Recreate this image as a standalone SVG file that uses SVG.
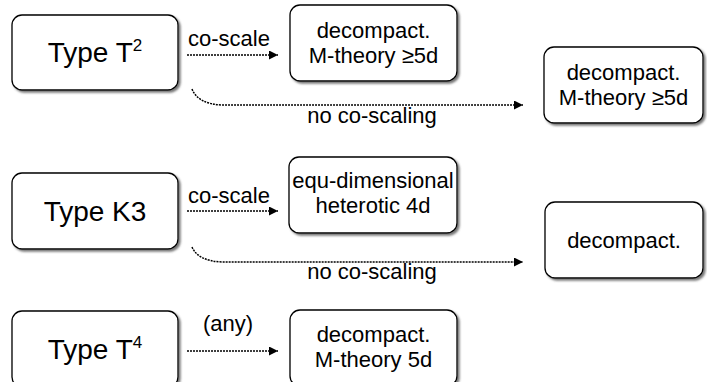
<svg xmlns="http://www.w3.org/2000/svg" width="707" height="382" viewBox="0 0 707 382">
<defs>
<filter id="sh" x="-10%" y="-10%" width="130%" height="130%">
<feDropShadow dx="2" dy="2" stdDeviation="1" flood-color="#555" flood-opacity="0.8"/>
</filter>
<marker id="ah" viewBox="0 0 10 10" refX="10" refY="5" markerWidth="10" markerHeight="9" markerUnits="userSpaceOnUse" orient="auto">
<path d="M0,0 L10,5 L0,10 z" fill="#000"/>
</marker>
</defs>
<style>
.box{fill:#fff;stroke:#000;stroke-width:1.3;filter:url(#sh)}
.t{font-family:"Liberation Sans",Arial,sans-serif;fill:#000;text-anchor:middle}
.big{font-size:28px}
.sm{font-size:22px}
.arr{fill:none;stroke:#000;stroke-width:1.5;stroke-dasharray:2 1;marker-end:url(#ah)}
</style>
<rect width="707" height="382" fill="#fff"/>
<g id="typeT2">
<rect class="box" x="12" y="15" width="166" height="75" rx="10"/>
<text class="t big" x="95" y="62">Type T<tspan font-size="17" dy="-11">2</tspan></text>
</g>
<g id="m1">
<rect class="box" x="290" y="5" width="167" height="76" rx="10"/>
<text class="t sm" x="373.5" y="38">decompact.</text>
<text class="t sm" x="373.5" y="63">M-theory ≥5d</text>
</g>
<g id="r1">
<rect class="box" x="544" y="47" width="159" height="76" rx="10"/>
<text class="t sm" x="623.5" y="80">decompact.</text>
<text class="t sm" x="623.5" y="105">M-theory ≥5d</text>
</g>
<g id="typeK3">
<rect class="box" x="12" y="173" width="166" height="76" rx="10"/>
<text class="t big" x="95" y="221">Type K3</text>
</g>
<g id="m2">
<rect class="box" x="289" y="157" width="168" height="76" rx="10"/>
<text class="t sm" x="373" y="188">equ-dimensional</text>
<text class="t sm" x="373" y="213">heterotic 4d</text>
</g>
<g id="r2">
<rect class="box" x="545" y="202" width="158" height="76" rx="10"/>
<text class="t sm" x="624" y="248">decompact.</text>
</g>
<g id="typeT4">
<rect class="box" x="12" y="311" width="166" height="76" rx="10"/>
<text class="t big" x="95" y="359">Type T<tspan font-size="17" dy="-11">4</tspan></text>
</g>
<g id="m3">
<rect class="box" x="290" y="310" width="167" height="76" rx="10"/>
<text class="t sm" x="373.5" y="342">decompact.</text>
<text class="t sm" x="373.5" y="367">M-theory 5d</text>
</g>
<g id="connectors">
<path class="arr" d="M187,55 L278,55"/>
<text class="t sm" x="229" y="46">co-scale</text>
<path class="arr" d="M192,89 Q198,104 222,105 L523,105"/>
<text class="t sm" x="372" y="123">no co-scaling</text>
<path class="arr" d="M187,211 L278,211"/>
<text class="t sm" x="229" y="203">co-scale</text>
<path class="arr" d="M192,247 Q198,261 222,262 L523,262"/>
<text class="t sm" x="372" y="279">no co-scaling</text>
<path class="arr" d="M187,351 L278,351"/>
<text class="t sm" x="228" y="331">(any)</text>
</g>
</svg>
